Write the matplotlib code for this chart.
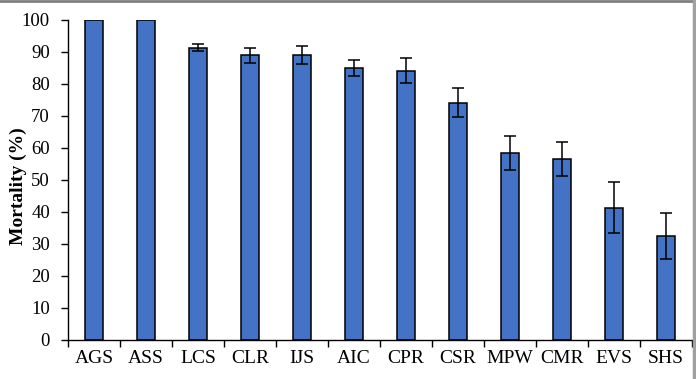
import matplotlib
matplotlib.use("Agg")
import matplotlib.pyplot as plt
from matplotlib.lines import Line2D

categories = ["AGS", "ASS", "LCS", "CLR", "IJS", "AIC", "CPR", "CSR", "MPW", "CMR", "EVS", "SHS"]
mortality = [100, 100, 91.4, 89.0, 89.2, 84.9, 84.2, 74.1, 58.4, 56.7, 41.4, 32.5]
errors = [0, 0, 1.2, 2.4, 2.8, 2.5, 4.0, 4.5, 5.3, 5.3, 8.0, 7.2]
yticks = list(range(0, 101, 10))

plt.rcParams['font.family'] = ['Liberation Serif', 'DejaVu Serif']

fig = plt.figure(figsize=(6.96, 3.79), dpi=100)
ax = fig.add_axes([68/696, 39/379, 624/696, 320/379])

x = list(range(len(categories)))
ax.bar(x, mortality, width=0.33, color="#4472C4", edgecolor="black", linewidth=1.1, zorder=2)
err_x = [xi for xi, e in zip(x, errors) if e > 0]
err_y = [m for m, e in zip(mortality, errors) if e > 0]
err_e = [e for e in errors if e > 0]
ax.errorbar(err_x, err_y, yerr=err_e, fmt="none", ecolor="black", elinewidth=1.1,
            capsize=4, capthick=1.1, zorder=3)

ax.set_xlim(-0.5, len(categories) - 0.5)
ax.set_ylim(0, 100)
ax.set_yticks(yticks)
ax.set_yticklabels([str(t) for t in yticks], fontsize=13.5)
ax.set_xticks([i - 0.5 for i in range(len(categories) + 1)])
ax.set_xticklabels([])
ax.set_xticks(x, minor=True)
ax.set_xticklabels(categories, minor=True, fontsize=14)
ax.tick_params(axis="x", which="minor", length=0, pad=7)
ax.tick_params(axis="x", which="major", length=5, width=1, direction="out")
ax.tick_params(axis="y", length=5, width=1, direction="out", pad=8)
for s in ["top", "right"]:
    ax.spines[s].set_visible(False)
for s in ["left", "bottom"]:
    ax.spines[s].set_linewidth(1.0)

ax.set_ylabel("Mortality (%)", fontsize=14, fontweight="bold")
ax.yaxis.set_label_coords(-0.066, 0.48)

# image frame (top and right gray edge)
fig.add_artist(Line2D([0, 1], [0.998, 0.998], transform=fig.transFigure, color="#808080", linewidth=2))
fig.add_artist(Line2D([0.997, 0.997], [0, 1], transform=fig.transFigure, color="#A0A0A0", linewidth=2.5))

fig.savefig("out.png", dpi=100)
